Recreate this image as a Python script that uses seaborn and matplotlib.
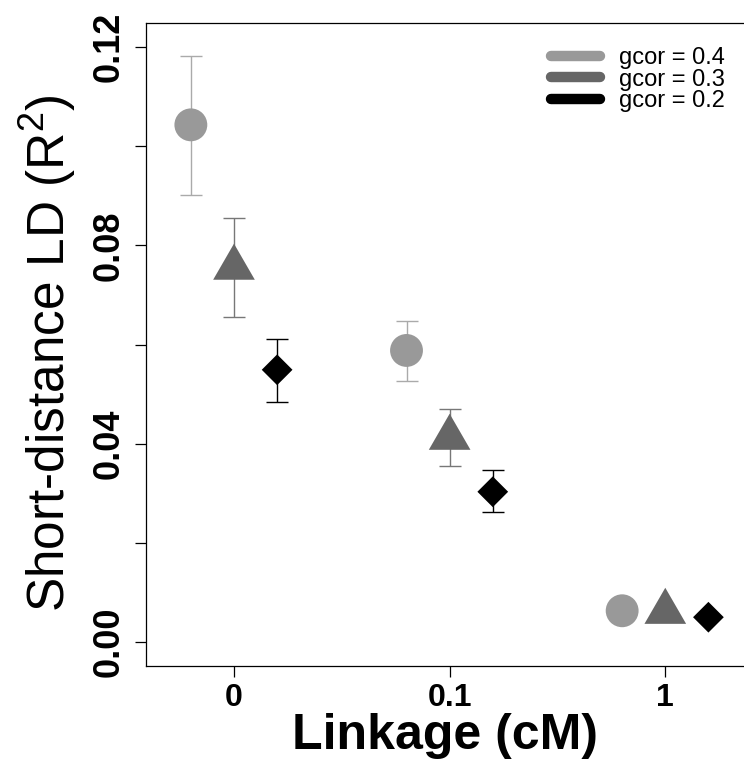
import matplotlib
matplotlib.use("Agg")
import matplotlib.pyplot as plt
from matplotlib.lines import Line2D
import seaborn as sns
import numpy as np
import pandas as pd

# values
linkage = ["0", "0.1", "1"]
gcor_labels = ["gcor = 0.4", "gcor = 0.3", "gcor = 0.2"]

r2_g04 = [0.1043, 0.0588, 0.0063]
lo_g04 = [0.0901, 0.0526, np.nan]
hi_g04 = [0.1182, 0.0648, np.nan]

r2_g03 = [0.0767, 0.0424, 0.0073]
lo_g03 = [0.0655, 0.0354, np.nan]
hi_g03 = [0.0855, 0.0469, np.nan]

r2_g02 = [0.0549, 0.0303, 0.0050]
lo_g02 = [0.0485, 0.0263, np.nan]
hi_g02 = [0.0612, 0.0346, np.nan]

# styling
colors = ["#999999", "#666666", "#000000"]
err_colors = ["#aaaaaa", "#777777", "#000000"]
tri = [(-1.0, -0.866), (1.0, -0.866), (0.0, 0.866)]
markers = {"gcor = 0.4": "o", "gcor = 0.3": tri, "gcor = 0.2": "D"}
sizes = {"gcor = 0.4": 560, "gcor = 0.3": 900, "gcor = 0.2": 245}
offsets = [-0.2, 0.0, 0.2]

means = [r2_g04, r2_g03, r2_g02]
lows = [lo_g04, lo_g03, lo_g02]
highs = [hi_g04, hi_g03, hi_g02]

rows = []
for g, lab in enumerate(gcor_labels):
    for i, lk in enumerate(linkage):
        rows.append({"linkage": lk, "gcor": lab, "x": i + offsets[g],
                     "r2": means[g][i], "lo": lows[g][i], "hi": highs[g][i]})
df = pd.DataFrame(rows)

sns.set_style("ticks")
plt.rcParams["font.family"] = ["Liberation Sans", "DejaVu Sans"]
plt.rcParams["mathtext.fontset"] = "custom"
plt.rcParams["mathtext.rm"] = "Liberation Sans"
plt.rcParams["mathtext.it"] = "Liberation Sans:italic"
plt.rcParams["mathtext.bf"] = "Liberation Sans:bold"
for key in ["text.color", "axes.labelcolor", "xtick.color", "ytick.color"]:
    plt.rcParams[key] = "black"

fig = plt.figure(figsize=(7.44, 7.6), dpi=100)
ax = fig.add_axes([146 / 744, 1 - 666 / 760, 1 - 146 / 744, (666 - 23) / 760])

# error bars first, markers on top
for g, lab in enumerate(gcor_labels):
    sub = df[df["gcor"] == lab]
    ax.errorbar(sub["x"], sub["r2"],
                yerr=[sub["r2"] - sub["lo"], sub["hi"] - sub["r2"]],
                fmt="none", ecolor=err_colors[g], elinewidth=1.0,
                capsize=8, capthick=1.0, zorder=2)

sns.scatterplot(data=df, x="x", y="r2", hue="gcor", style="gcor", size="gcor",
                palette=dict(zip(gcor_labels, colors)), markers=markers,
                sizes=sizes, linewidth=0, legend=False, ax=ax, zorder=3)

ax.set_xlim(-0.408, 2.365)
ax.set_ylim(-0.00484, 0.12484)
ax.set_xticks(range(len(linkage)))
ax.set_xticklabels(linkage, fontsize=23, fontweight="bold")
yt = np.round(np.arange(0, 0.121, 0.02), 2)
ax.set_yticks(yt)
ax.set_yticklabels([f"{v:.2f}" if i % 2 == 0 else "" for i, v in enumerate(yt)],
                   fontsize=26, fontweight="bold")
ax.tick_params(axis="y", labelrotation=90, length=8, width=0.9, pad=6)
ax.tick_params(axis="x", length=8, width=0.9, pad=4)
for lbl in ax.get_yticklabels():
    lbl.set_va("center")

ax.set_xlabel("Linkage (cM)", fontsize=36, fontweight="bold", labelpad=0)
ax.set_ylabel("Short-distance LD (R$^2$)", fontsize=37, labelpad=10)
ax.yaxis.label.set_y(0.486)

for side in ["left", "top", "bottom"]:
    ax.spines[side].set_color("black")
    ax.spines[side].set_linewidth(0.9)
ax.spines["right"].set_visible(False)

handles = [Line2D([0], [0], color=c, lw=7.5, solid_capstyle="round") for c in colors]
leg = ax.legend(handles, gcor_labels, loc="upper right", bbox_to_anchor=(1.0, 0.992),
                frameon=False, fontsize=17, handlelength=2.1, handletextpad=0.8,
                labelspacing=-0.02, borderpad=0.3)

fig.savefig("out.png", dpi=100)
